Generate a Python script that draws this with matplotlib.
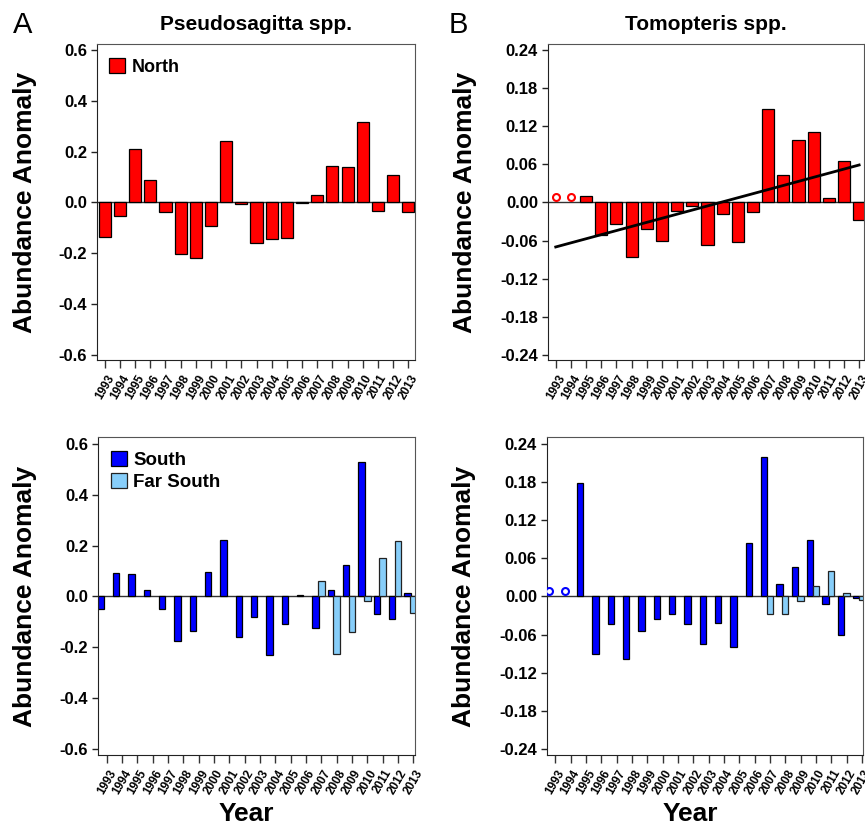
import numpy as np
import matplotlib
matplotlib.use('Agg')
import matplotlib.pyplot as plt
import matplotlib.transforms as mtransforms

plt.rcParams['font.family'] = ['Liberation Sans', 'DejaVu Sans']

# data
years = list(range(1993, 2014))
year_labels = [str(y) for y in years]

pseudo_north = [-0.136, -0.052, 0.211, 0.089, -0.038, -0.202, -0.217, -0.094, 0.242, -0.005,
                -0.161, -0.143, -0.139, -0.003, 0.030, 0.143, 0.139, 0.317, -0.034, 0.107, -0.037]
pseudo_south = [-0.049, 0.092, 0.088, 0.025, -0.049, -0.175, -0.136, 0.096, 0.224, -0.161,
                -0.079, -0.230, -0.107, 0.004, -0.124, 0.025, 0.122, 0.529, -0.071, -0.088, 0.013]
far_south_years = [2007, 2008, 2009, 2010, 2011, 2012, 2013]
pseudo_far_south = [0.062, -0.225, -0.138, -0.017, 0.150, 0.220, -0.064]

# Tomopteris: 1993 and 1994 not sampled (open circles)
tomo_years = list(range(1995, 2014))
tomo_north = [0.0105, -0.051, -0.034, -0.086, -0.041, -0.060, -0.014, -0.006, -0.067, -0.018,
              -0.062, -0.015, 0.1475, 0.0436, 0.0987, 0.111, 0.0074, 0.0656, -0.027]
tomo_south = [0.178, -0.090, -0.043, -0.0985, -0.054, -0.035, -0.027, -0.043, -0.074, -0.041,
              -0.079, 0.084, 0.220, 0.019, 0.046, 0.089, -0.0115, -0.060, -0.003]
tomo_far_south = [-0.028, -0.028, -0.0068, 0.016, 0.040, 0.005, -0.005]
missing_years = [1993, 1994]
missing_y = [0.008, 0.008]
trend_x = [1993, 2013]
trend_y = [-0.070, 0.059]

red = '#ff0000'
blue = '#0000ff'
lightblue = '#87cefa'

fig = plt.figure(figsize=(8.65, 8.24), dpi=100)
W, H = 865, 824


def add_ax(x0, x1, y0, y1):
    return fig.add_axes([x0 / W, 1 - y1 / H, (x1 - x0) / W, (y1 - y0) / H])


ax_tl = add_ax(97, 415, 44, 360)
ax_tr = add_ax(547.7, 864, 44, 360)
ax_bl = add_ax(98, 415.3, 437, 755)
ax_br = add_ax(546.7, 863.3, 437, 755)

shift = mtransforms.ScaledTranslation(-2 / 100, 0, fig.dpi_scale_trans)


def style(ax, yticks, fmt, xlim, ylim, lab_x):
    ax.set_xlim(*xlim)
    ax.set_ylim(*ylim)
    ax.set_yticks(yticks)
    ax.set_yticklabels([fmt.format(v) for v in yticks], fontsize=12, fontweight='bold')
    ax.set_xticks(years)
    ax.set_xticklabels(year_labels, rotation=60, fontsize=8.5, fontweight='bold',
                       ha='center', va='top')
    for lab in ax.get_xticklabels():
        lab.set_transform(lab.get_transform() + shift)
    ax.tick_params(axis='x', length=6, width=1, pad=3, color='#333333')
    ax.tick_params(axis='y', length=4, width=1, pad=3, color='#222222')
    for s in ['left', 'bottom']:
        ax.spines[s].set_color('#222222')
    for s in ['top', 'right']:
        ax.spines[s].set_color('#555555')
    ax.axhline(0, color='#333333', lw=1, zorder=1)
    ax.set_ylabel('Abundance Anomaly', fontsize=19, fontweight='bold')
    ax.yaxis.set_label_coords(lab_x, 0.5)


# A top: Pseudosagitta North
ax_tl.bar(years, pseudo_north, width=0.8, color=red, edgecolor='black', lw=0.9, zorder=2,
          label='North')
style(ax_tl, [0.6, 0.4, 0.2, 0.0, -0.2, -0.4, -0.6], '{:.1f}', (1992.49, 2013.44),
      (-0.6197, 0.6236), -0.19)
ax_tl.set_title('Pseudosagitta spp.', fontsize=15, fontweight='bold', pad=10)
ax_tl.legend(loc='upper left', bbox_to_anchor=(0.037, 0.955), frameon=False,
             prop={'size': 13, 'weight': 'bold'}, handlelength=0.9, handleheight=0.9,
             handletextpad=0.35, borderpad=0, borderaxespad=0)

# B top: Tomopteris North
ax_tr.bar(tomo_years, tomo_north, width=0.8, color=red, edgecolor='black', lw=0.9, zorder=2)
ax_tr.plot(missing_years, missing_y, 'o', mfc='white', mec=red, mew=1.5, ms=5, zorder=3)
ax_tr.plot(trend_x, trend_y, color='black', lw=2, zorder=4)
style(ax_tr, [0.24, 0.18, 0.12, 0.06, 0.0, -0.06, -0.12, -0.18, -0.24], '{:.2f}',
      (1992.47, 2013.32), (-0.2479, 0.2494), -0.225)
ax_tr.set_title('Tomopteris spp.', fontsize=15, fontweight='bold', pad=10)

# A bottom: Pseudosagitta South / Far South
off_s, off_f, bw = -0.38, 0.0, 0.42
ax_bl.bar(np.array(years) + off_s, pseudo_south, width=bw, color=blue, edgecolor='black',
          lw=0.9, zorder=2, label='South')
ax_bl.bar(np.array(far_south_years) + off_f, pseudo_far_south, width=bw, color=lightblue,
          edgecolor='#222222', lw=0.9, zorder=2, label='Far South')
style(ax_bl, [0.6, 0.4, 0.2, 0.0, -0.2, -0.4, -0.6], '{:.1f}', (1992.43, 2013.13),
      (-0.624, 0.6275), -0.193)
ax_bl.legend(loc='upper left', bbox_to_anchor=(0.04, 0.955), frameon=False,
             prop={'size': 13.5, 'weight': 'bold'}, handlelength=0.85, handleheight=0.85,
             handletextpad=0.35, labelspacing=0.2, borderpad=0, borderaxespad=0)
ax_bl.set_xlabel('Year', fontsize=19, fontweight='bold')
ax_bl.xaxis.set_label_coords(0.468, -0.147)

# B bottom: Tomopteris South / Far South
ax_br.bar(np.array(tomo_years) + off_s, tomo_south, width=bw, color=blue, edgecolor='black',
          lw=0.9, zorder=2)
ax_br.bar(np.array(far_south_years) + off_f, tomo_far_south, width=bw, color=lightblue,
          edgecolor='#222222', lw=0.9, zorder=2)
ax_br.plot(np.array(missing_years) + off_s, missing_y, 'o', mfc='white', mec=blue, mew=1.5,
           ms=5, zorder=3)
style(ax_br, [0.24, 0.18, 0.12, 0.06, 0.0, -0.06, -0.12, -0.18, -0.24], '{:.2f}',
      (1992.44, 2013.09), (-0.2494, 0.2509), -0.222)
ax_br.set_xlabel('Year', fontsize=19, fontweight='bold')
ax_br.xaxis.set_label_coords(0.4526, -0.147)

fig.text(13 / W, 1 - 33 / H, 'A', fontsize=21, va='baseline')
fig.text(449 / W, 1 - 33 / H, 'B', fontsize=21, va='baseline')

fig.savefig('out.png', dpi=100)
